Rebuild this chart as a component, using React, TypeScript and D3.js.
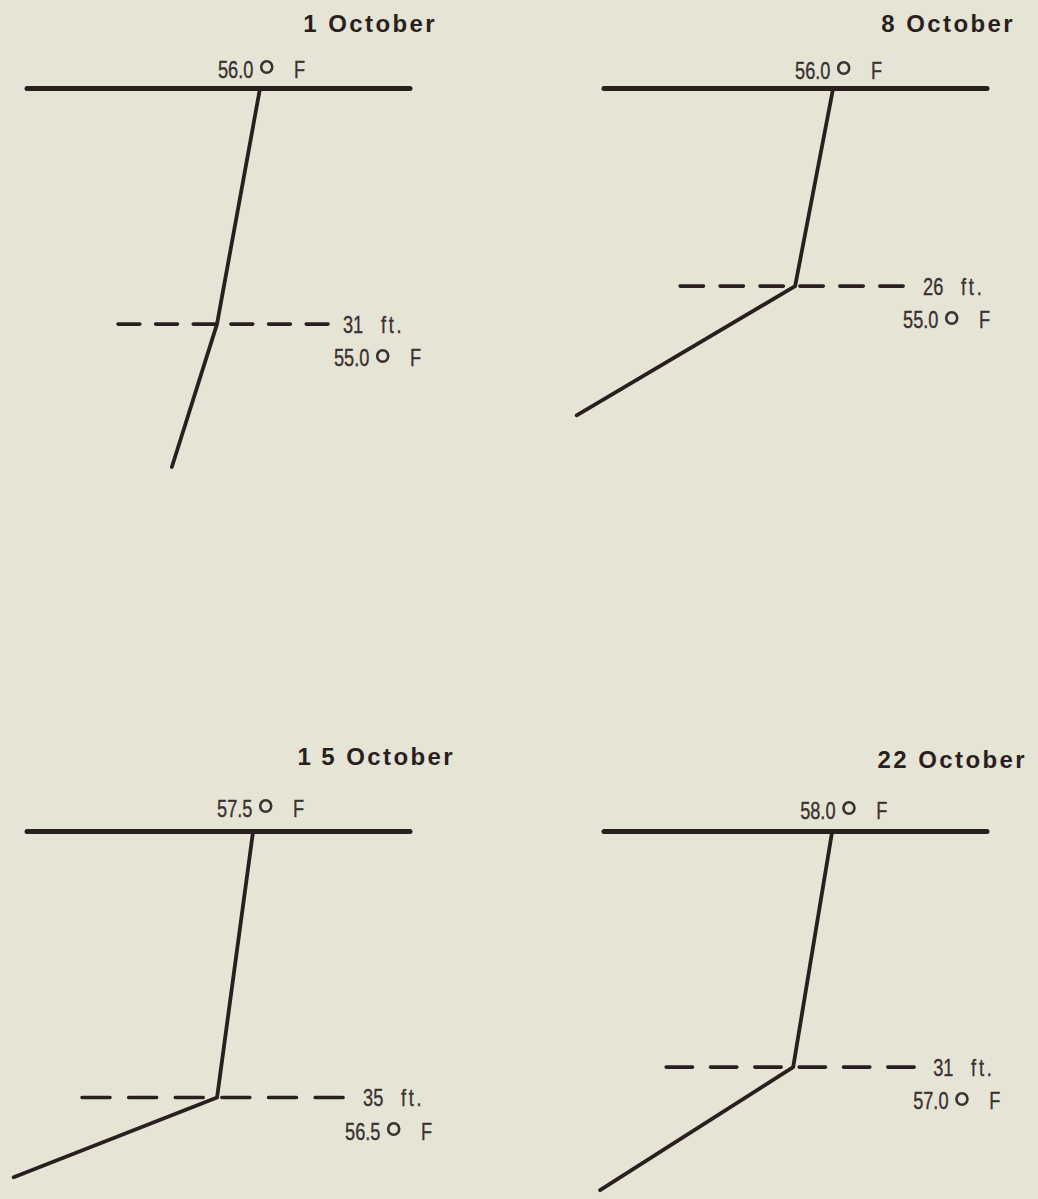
import React, { useEffect } from 'react';
import * as d3 from 'd3';

// ---- data ----
const dates = ['1 October', '8 October', '15 October', '22 October'];
const surfaceTemp = [56.0, 56.0, 57.5, 58.0];
const thermoclineDepth = [31, 26, 35, 31];
const thermoclineTemp = [55.0, 55.0, 56.5, 57.0];
const bottomDepth = [49.8, 43.0, 45.5, 47.2];
const bottomTemp = [53.95, 49.25, 50.85, 52.05];
// temperature domain spanned by each panel's surface line
const tempDomainLo = [50.58, 49.97, 51.22, 52.15];
const tempDomainHi = [59.49, 60.05, 61.86, 61.97];
const depthDomain = [0, 50];

// ---- layout / style ----
const W = 1038;
const H = 1199;
const colX = [27, 604];
const rowY = [88.5, 831.5];
const panelW = 383;
const depthPx = 380;
const dashLeft = [99, 115, 135, 127];
const dashRight = [111, 108, 126, 121];
const dashCount = 6;
const titleEndDx = [410, 411, 428, 423];
const titleBase = [32, 32, 765, 768];
const dayGap = [0, 0, 8, 0];
const surfLabelDx = [-42, -38, -36, -32];
const surfLabelDy = [-11, -10, -15, -13];
const depthLabelDx = [15, 20, 20, 19];
const tempLabelDx = [6, 0, 2, -1];

const BG = '#e5e4d5';
const INK = '#2a1f1f';
const TEXT = '#3a3131';
const FONT = "'Liberation Sans', Arial, Helvetica, sans-serif";
const NARROW = 0.79;
const LABEL_SIZE = 23;
const DASH_W = 3.6;

function TempLabel({ x, y, value }: { x: number; y: number; value: number }) {
  return (
    <g transform={`translate(${x},${y})`}>
      <text
        transform={`scale(${NARROW},1)`}
        fontFamily={FONT}
        fontSize={LABEL_SIZE}
        fill={TEXT}
        stroke={TEXT}
        strokeWidth={0.35}
      >
        {value.toFixed(1)}
      </text>
      <text
        transform={`translate(39,17.5) scale(1.35,1.4)`}
        fontFamily={FONT}
        fontSize={36}
        fill={TEXT}
      >
        °
      </text>
      <text
        transform={`translate(76,0) scale(${NARROW},1)`}
        fontFamily={FONT}
        fontSize={LABEL_SIZE}
        fill={TEXT}
        stroke={TEXT}
        strokeWidth={0.35}
      >
        F
      </text>
    </g>
  );
}

function DepthLabel({ x, y, value }: { x: number; y: number; value: number }) {
  return (
    <g transform={`translate(${x},${y}) scale(${NARROW},1)`}>
      <text fontFamily={FONT} fontSize={LABEL_SIZE} fill={TEXT} stroke={TEXT} strokeWidth={0.35}>
        <tspan>{String(value)}</tspan>
        <tspan x={48} letterSpacing={3.5}>
          ft.
        </tspan>
      </text>
    </g>
  );
}

function Panel({ i }: { i: number }) {
  const left = colX[i % 2];
  const top = rowY[Math.floor(i / 2)];
  const x = d3.scaleLinear().domain([tempDomainLo[i], tempDomainHi[i]]).range([left, left + panelW]);
  const y = d3.scaleLinear().domain(depthDomain).range([top, top + depthPx]);

  const pts: [number, number][] = [
    [surfaceTemp[i], 0],
    [thermoclineTemp[i], thermoclineDepth[i]],
    [bottomTemp[i], bottomDepth[i]],
  ];
  const line = d3
    .line<[number, number]>()
    .x((d) => x(d[0]))
    .y((d) => y(d[1]));

  const tx = x(thermoclineTemp[i]);
  const ty = y(thermoclineDepth[i]);
  const dashStart = tx - dashLeft[i];
  const dashEnd = tx + dashRight[i];
  const L = dashEnd - dashStart;
  // visible dash v, visible gap 0.48 v; caps of DASH_W/2 each side
  const v = (L + DASH_W) / (dashCount + (dashCount - 1) * 0.48);
  const dLen = v - DASH_W;
  const gLen = 0.48 * v + DASH_W;
  const sx = x(surfaceTemp[i]);
  const sy = y(0);

  const [day, ...rest] = dates[i].split(' ');
  const month = rest.join(' ');

  return (
    <g>
      <text
        x={left + titleEndDx[i]}
        y={titleBase[i]}
        textAnchor="end"
        fontFamily={FONT}
        fontSize={24}
        fontWeight="bold"
        letterSpacing={2.4}
        fill={INK}
      >
        {day.split('').map((c, k) => (
          <tspan key={k} dx={k > 0 ? dayGap[i] : 0}>
            {c}
          </tspan>
        ))}
        <tspan>{' ' + month}</tspan>
      </text>

      <line
        x1={x.range()[0]}
        x2={x.range()[1]}
        y1={sy}
        y2={sy}
        stroke={INK}
        strokeWidth={5}
        strokeLinecap="round"
      />

      <line
        x1={dashStart}
        x2={dashEnd}
        y1={ty}
        y2={ty}
        stroke={INK}
        strokeWidth={DASH_W}
        strokeLinecap="round"
        strokeDasharray={`${dLen.toFixed(2)} ${gLen.toFixed(2)}`}
      />

      <path
        d={line(pts) || ''}
        fill="none"
        stroke={INK}
        strokeWidth={3.8}
        strokeLinecap="round"
        strokeLinejoin="round"
      />

      <TempLabel x={sx + surfLabelDx[i]} y={sy + surfLabelDy[i]} value={surfaceTemp[i]} />
      <DepthLabel x={dashEnd + depthLabelDx[i]} y={ty + 8.5} value={thermoclineDepth[i]} />
      <TempLabel x={dashEnd + tempLabelDx[i]} y={ty + 42} value={thermoclineTemp[i]} />
    </g>
  );
}

export default function App() {
  useEffect(() => {
    document.body.style.margin = '0';
    document.body.style.background = BG;
  }, []);
  return (
    <svg width={W} height={H} viewBox={`0 0 ${W} ${H}`} style={{ display: 'block', background: BG }}>
      <rect x={0} y={0} width={W} height={H} fill={BG} />
      {dates.map((_, i) => (
        <Panel key={i} i={i} />
      ))}
    </svg>
  );
}
